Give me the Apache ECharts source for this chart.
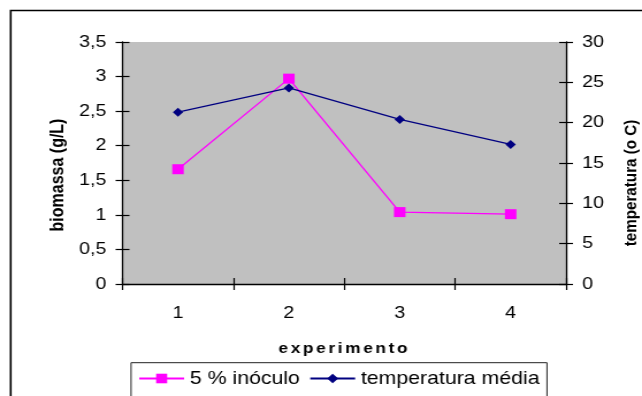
<!DOCTYPE html>
<html>
<head>
<meta charset="utf-8">
<script src="https://cdn.jsdelivr.net/npm/echarts@6/dist/echarts.min.js"></script>
<style>
  html, body { margin: 0; padding: 0; background: #fff; overflow: hidden; }
  /* the chart is laid out narrow and widened horizontally to the 642px frame */
  #chart { width: 558px; height: 396px; transform: scaleX(1.15054); transform-origin: 0 0; }
</style>
</head>
<body>
<div id="chart"></div>
<script>
// experiment numbers on the category axis
const categories = ['1', '2', '3', '4'];
// biomass (g/L) obtained with 5 % inoculum
const inoculo = [1.66, 2.97, 1.04, 1.01];
// mean temperature (°C) of each experiment
const temperatura = [21.3, 24.3, 20.4, 17.3];

const FONT = "'Liberation Sans', Arial, sans-serif";
const BLACK = '#000';

const comma = v => String(v).replace('.', ',');

const chart = echarts.init(document.getElementById('chart'), null, { renderer: 'canvas' });

// letter-spaced axis title built from rich-text fragments
const xTitle = 'experimento'.split('').map(c => '{l|' + c + '}').join('');

const axisLineStyle = { color: BLACK, width: 1.3 };
const tickStyle = { color: BLACK, width: 1.2 };

chart.setOption({
  backgroundColor: '#fff',
  animation: false,
  grid: {
    left: 106.5, right: 66, top: 42, bottom: 112,
    show: true, backgroundColor: '#c0c0c0', borderWidth: 0
  },
  xAxis: [
    {
      type: 'category', data: categories, position: 'bottom',
      axisLine: { show: true, onZero: false, lineStyle: axisLineStyle },
      axisTick: { show: true, interval: 0, alignWithLabel: false, length: 6, lineStyle: tickStyle },
      axisLabel: { color: BLACK, fontFamily: FONT, fontSize: 17, margin: 20.5 },
      splitLine: { show: false },
      name: xTitle, nameLocation: 'middle', nameGap: 57,
      nameTextStyle: {
        rich: { l: { fontFamily: FONT, fontSize: 15, fontWeight: 'bold', color: BLACK, padding: [0, 2.3, 0, 0], lineHeight: 16 } }
      }
    },
    {
      // inner half of the crossing ticks
      type: 'category', data: categories, position: 'bottom',
      axisLine: { show: false, onZero: false },
      axisTick: { show: true, inside: true, interval: 0, length: 6, lineStyle: tickStyle },
      axisLabel: { show: false }, splitLine: { show: false }
    }
  ],
  yAxis: [
    {
      type: 'value', position: 'left', min: 0, max: 3.5, interval: 0.5,
      axisLine: { show: true, lineStyle: axisLineStyle },
      axisTick: { show: true, length: 6, lineStyle: tickStyle },
      axisLabel: { color: BLACK, fontFamily: FONT, fontSize: 17, margin: 14, formatter: comma },
      splitLine: { show: false }
    },
    {
      type: 'value', position: 'right', min: 0, max: 30, interval: 5,
      axisLine: { show: true, lineStyle: axisLineStyle },
      axisTick: { show: true, length: 6, lineStyle: tickStyle },
      axisLabel: { color: BLACK, fontFamily: FONT, fontSize: 17, margin: 14 },
      splitLine: { show: false }
    },
    {
      type: 'value', position: 'left', min: 0, max: 3.5, interval: 0.5,
      axisLine: { show: false }, axisLabel: { show: false }, splitLine: { show: false },
      axisTick: { show: true, inside: true, length: 6, lineStyle: tickStyle }
    },
    {
      type: 'value', position: 'right', min: 0, max: 30, interval: 5,
      axisLine: { show: false }, axisLabel: { show: false }, splitLine: { show: false },
      axisTick: { show: true, inside: true, length: 6, lineStyle: tickStyle }
    }
  ],
  legend: {
    left: 120, top: 368.5, padding: 0,
    itemWidth: 39, itemHeight: 12, itemGap: 8,
    textStyle: { fontFamily: FONT, fontSize: 18.5, color: BLACK, lineHeight: 20 },
    data: ['5 % inóculo', 'temperatura média']
  },
  series: [
    {
      name: '5 % inóculo', type: 'line', xAxisIndex: 0, yAxisIndex: 0,
      data: inoculo,
      symbol: 'rect', symbolSize: 10,
      lineStyle: { color: '#ff00ff', width: 1.3 },
      itemStyle: { color: '#ff00ff' },
      z: 3
    },
    {
      name: 'temperatura média', type: 'line', xAxisIndex: 0, yAxisIndex: 1,
      data: temperatura,
      symbol: 'diamond', symbolSize: 9,
      lineStyle: { color: '#000080', width: 1.3 },
      itemStyle: { color: '#000080' },
      z: 4
    }
  ],
  graphic: [
    {
      // outer chart frame (continues past the right and bottom edges)
      type: 'rect', silent: true, z: 0,
      shape: { x: 9.3, y: 10.5, width: 700, height: 500 },
      style: { fill: null, stroke: BLACK, lineWidth: 1.6 }
    },
    {
      // legend box
      type: 'rect', silent: true, z: 1,
      shape: { x: 113.9, y: 362.7, width: 361.5, height: 60 },
      style: { fill: null, stroke: '#222', lineWidth: 1 }
    },
    {
      type: 'text', silent: true, x: 50.4, y: 175, rotation: Math.PI / 2,
      style: { text: 'biomassa (g/L)', fontFamily: FONT, fontSize: 16, fontWeight: 'bold', fill: BLACK, align: 'center', verticalAlign: 'middle' }
    },
    {
      type: 'text', silent: true, x: 548.4, y: 183, rotation: Math.PI / 2,
      style: { text: 'temperatura (o C)', fontFamily: FONT, fontSize: 15.2, fontWeight: 'bold', fill: BLACK, align: 'center', verticalAlign: 'middle' }
    }
  ]
});
</script>
</body>
</html>
